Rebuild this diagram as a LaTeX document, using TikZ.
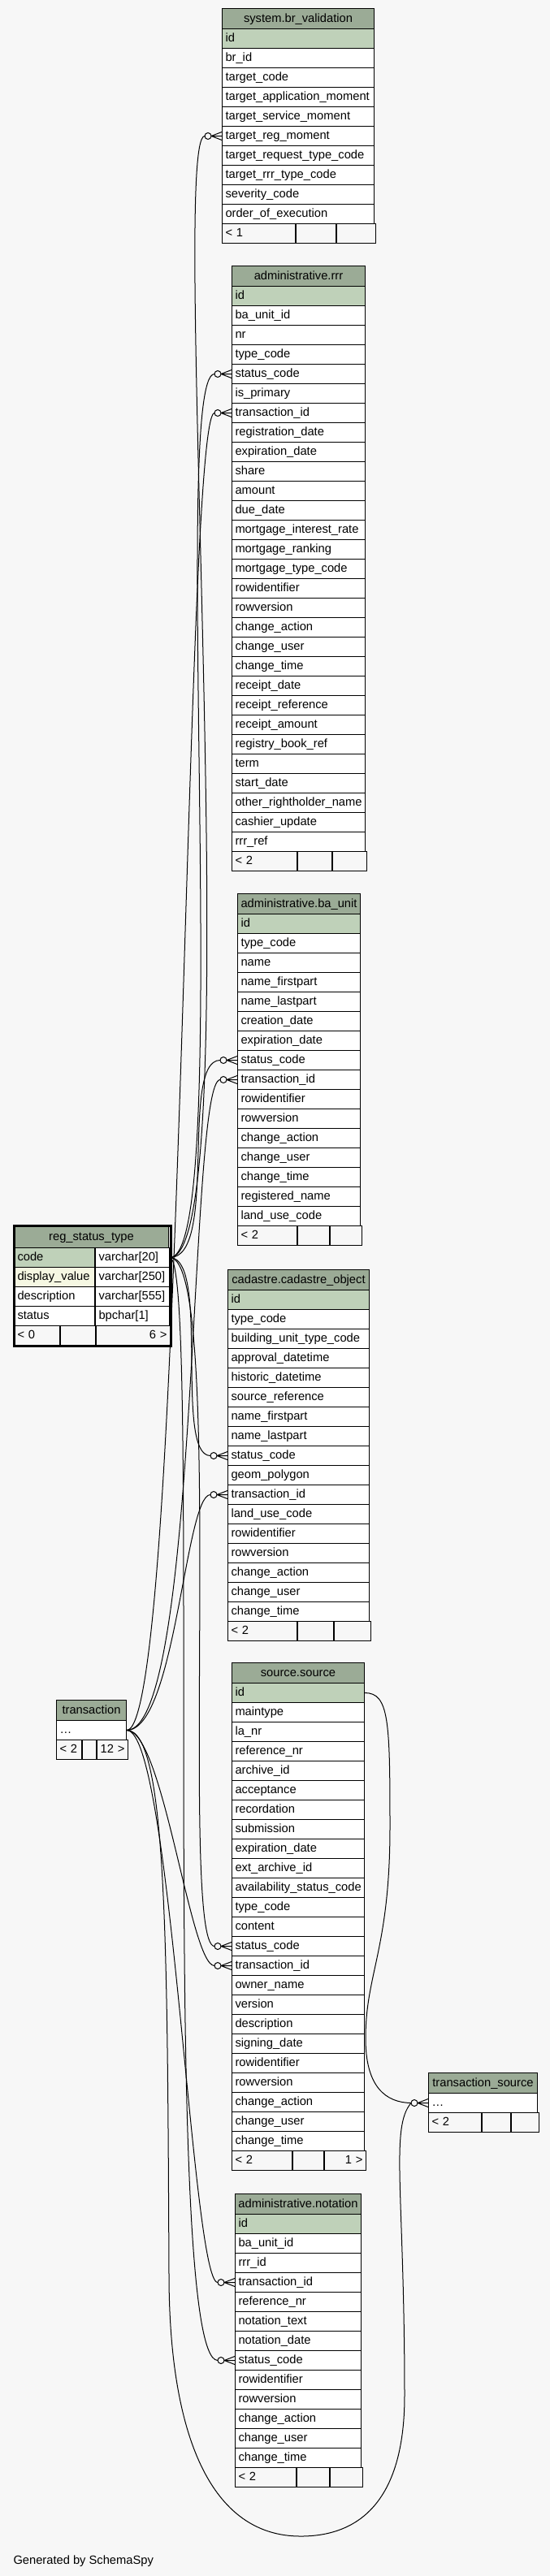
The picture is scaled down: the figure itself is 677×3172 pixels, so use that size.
\documentclass[tikz,border=0pt]{standalone}
\usepackage{fontspec}
\setmainfont{Liberation Sans}
\usepackage{tikz}
\definecolor{bg}{RGB}{247,247,247}
\definecolor{headfill}{RGB}{155,171,150}
\definecolor{pkfill}{RGB}{191,209,185}
\definecolor{idxfill}{RGB}{245,247,226}
\newcommand\dbtable[7][pkfill]{
  \pgfmathsetmacro\tblw{#5-8}
  \node[tblhead, minimum width=#5pt] (#2) at (#3,#4) {#6};
  \foreach \f [count=\i] in {#7} {
    \ifnum\i=1 \def\rowfill{#1}\else\def\rowfill{white}\fi
    \node[tblrow, fill=\rowfill, minimum width=#5pt, text width=\tblw pt] (#2-\i) at (#3,#4+1+24*\i) {\f};
  }
}
\newcommand\dbfoot[8]{
  \pgfmathsetmacro\fwa{#4-8}\pgfmathsetmacro\fwb{#5-8}\pgfmathsetmacro\fwc{#6-8}
  \node[tblfoot, minimum width=#4pt, text width=\fwa pt] (#1-fa) at (#2,#3) {#7};
  \node[tblfoot, minimum width=#5pt, text width=\fwb pt] (#1-fb) at (#1-fa.north east) {};
  \node[tblfoot, minimum width=#6pt, text width=\fwc pt, align=right] (#1-fc) at (#1-fb.north east) {#8};
}
\newcommand\crowodot[1]{
  \draw[fk] ([xshift=-13pt]#1.west) -- ([yshift=5pt]#1.west)
            ([xshift=-13pt]#1.west) -- (#1.west)
            ([xshift=-13pt]#1.west) -- ([yshift=-5pt]#1.west);
  \draw[fk, fill=bg] ([xshift=-17pt]#1.west) circle [radius=4pt];
}

\begin{document}
\begin{tikzpicture}[x=1pt, y=-1pt, line width=1pt,
  every node/.style={font=\fontsize{14.7}{17}\selectfont},
  tblhead/.style={draw, fill=headfill, anchor=north west, minimum height=25pt, inner sep=0pt, text height=11pt, text depth=3pt},
  tblrow/.style={draw, anchor=north west, minimum height=24pt, inner xsep=4pt, inner ysep=0pt, align=left, text height=11pt, text depth=3pt},
  tblfoot/.style={tblrow, fill=bg},
  fk/.style={draw=black}]
  \path[use as bounding box, fill=bg] (0,0) rectangle (677,3172);

  \dbtable{brv}{273}{10}{187}{system.br\_validation}{id, br\_id, target\_code, target\_application\_moment, target\_service\_moment, target\_reg\_moment, target\_request\_type\_code, target\_rrr\_type\_code, severity\_code, order\_of\_execution}
  \dbfoot{brv}{273}{275}{90}{49}{48}{< 1}{}

  \dbtable{rrr}{285}{327}{164}{administrative.rrr}{id, ba\_unit\_id, nr, type\_code, status\_code, is\_primary, transaction\_id, registration\_date, expiration\_date, share, amount, due\_date, mortgage\_interest\_rate, mortgage\_ranking, mortgage\_type\_code, rowidentifier, rowversion, change\_action, change\_user, change\_time, receipt\_date, receipt\_reference, receipt\_amount, registry\_book\_ref, term, start\_date, other\_rightholder\_name, cashier\_update, rrr\_ref}
  \dbfoot{rrr}{285}{1048}{80}{42}{42}{< 2}{}

  \dbtable{ba}{292}{1100}{151}{administrative.ba\_unit}{id, type\_code, name, name\_firstpart, name\_lastpart, creation\_date, expiration\_date, status\_code, transaction\_id, rowidentifier, rowversion, change\_action, change\_user, change\_time, registered\_name, land\_use\_code}
  \dbfoot{ba}{292}{1509}{73}{39}{39}{< 2}{}

  \dbtable{cad}{280}{1563}{174}{cadastre.cadastre\_object}{id, type\_code, building\_unit\_type\_code, approval\_datetime, historic\_datetime, source\_reference, name\_firstpart, name\_lastpart, status\_code, geom\_polygon, transaction\_id, land\_use\_code, rowidentifier, rowversion, change\_action, change\_user, change\_time}
  \dbfoot{cad}{280}{1996}{85}{44}{45}{< 2}{}

  \dbtable{src}{285}{2047}{163}{source.source}{id, maintype, la\_nr, reference\_nr, archive\_id, acceptance, recordation, submission, expiration\_date, ext\_archive\_id, availability\_status\_code, type\_code, content, status\_code, transaction\_id, owner\_name, version, description, signing\_date, rowidentifier, rowversion, change\_action, change\_user, change\_time}
  \dbfoot{src}{285}{2648}{74}{38}{51}{< 2}{1 >}

  \dbtable{ntn}{289}{2701}{155}{administrative.notation}{id, ba\_unit\_id, rrr\_id, transaction\_id, reference\_nr, notation\_text, notation\_date, status\_code, rowidentifier, rowversion, change\_action, change\_user, change\_time}
  \dbfoot{ntn}{289}{3038}{75}{40}{40}{< 2}{}

  \dbtable[white]{trn}{69}{2093}{86}{transaction}{\ldots}
  \dbfoot{trn}{69}{2142}{31}{17}{38}{< 2}{12 >}

  \dbtable[white]{tsrc}{527}{2552}{134}{transaction\_source}{\ldots}
  \dbfoot{tsrc}{527}{2601}{65}{35}{34}{< 2}{}

  \node[tblhead, minimum width=190pt, minimum height=27pt] (rst) at (17,1509) {reg\_status\_type};
  \foreach \c/\t/\cf [count=\i] in {code/varchar[20]/pkfill, display\_value/varchar[250]/idxfill, description/varchar[555]/white, status/bpchar[1]/white} {
    \node[tblrow, fill=\cf, minimum width=99pt, text width=91pt] (rst-\i) at (17,1512+24*\i) {\c};
    \node[tblrow, fill=white, minimum width=91pt, text width=83pt] (rst-\i-t) at (rst-\i.north east) {\t};
  }
  \dbfoot{rst}{17}{1632}{56}{43}{91}{< 0}{6 >}
  \draw[line width=3pt] (rst.north west) rectangle (rst-fc.south east);

  \draw[fk] (rst-1-t.east) .. controls +(100,0) and +(-45,0) .. ([xshift=-21pt]brv-6.west);
  \draw[fk] (rst-1-t.east) .. controls +(80,0) and +(-55,0) .. ([xshift=-21pt]rrr-5.west);
  \draw[fk] (rst-1-t.east) .. controls +(60,0) and +(-50,0) .. ([xshift=-21pt]ba-8.west);
  \draw[fk] (rst-1-t.east) .. controls +(50,0) and +(-45,0) .. ([xshift=-21pt]cad-9.west);
  \draw[fk] (rst-1-t.east) .. controls +(70,0) and +(-45,0) .. ([xshift=-21pt]src-14.west);
  \draw[fk] (rst-1-t.east) .. controls +(40,0) and +(-73,0) .. ([xshift=-21pt]ntn-8.west);

  \draw[fk] (trn-1.east) .. controls +(70,0) and +(-37,0) .. ([xshift=-21pt]rrr-7.west);
  \draw[fk] (trn-1.east) .. controls +(90,0) and +(-39,0) .. ([xshift=-21pt]ba-9.west);
  \draw[fk] (trn-1.east) .. controls +(60,0) and +(-31,0) .. ([xshift=-21pt]cad-11.west);
  \draw[fk] (trn-1.east) .. controls +(45,0) and +(-30,0) .. ([xshift=-21pt]src-15.west);
  \draw[fk] (trn-1.east) .. controls +(55,0) and +(-32,0) .. ([xshift=-21pt]ntn-4.west);
  \draw[fk] (trn-1.east) .. controls +(50,0) and (206,2400) .. (208,2800)
    .. controls (208,3000) and (260,3123) .. (370,3123)
    .. controls (450,3123) and (498,3070) .. (498,2950)
    .. controls (498,2700) and (480,2620) .. ([xshift=-21pt]tsrc-1.west);
  \draw[fk] (src-1.east) .. controls +(30,0) and (480,2120) .. (480,2250)
    .. controls (480,2400) and (450,2430) .. (450,2510)
    .. controls (450,2570) and (475,2589) .. ([xshift=-21pt]tsrc-1.west);

  \crowodot{brv-6}
  \crowodot{rrr-5}
  \crowodot{rrr-7}
  \crowodot{ba-8}
  \crowodot{ba-9}
  \crowodot{cad-9}
  \crowodot{cad-11}
  \crowodot{src-14}
  \crowodot{src-15}
  \crowodot{ntn-4}
  \crowodot{ntn-8}
  \crowodot{tsrc-1}

  \node[anchor=base west, inner sep=0pt] (gen) at (16,3157) {Generated by SchemaSpy};
\end{tikzpicture}
\end{document}
